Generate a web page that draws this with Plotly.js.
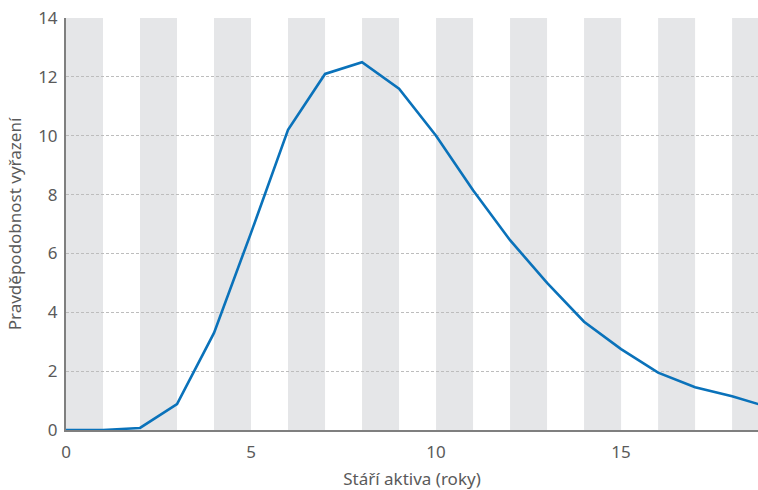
<!DOCTYPE html>
<html>
<head>
<meta charset="utf-8">
<script src="https://cdn.plot.ly/plotly-3.0.1.min.js"></script>
<style>html,body{margin:0;padding:0;background:#fff;}#chart{width:758px;height:490px;}</style>
</head>
<body>
<div id="chart"></div>
<script>
// Data
var ageYears = [0, 1, 2, 3, 4, 5, 6, 7, 8, 9, 10, 11, 12, 13, 14, 15, 16, 17, 18, 19];
var probability = [0, 0, 0.07, 0.88, 3.3, 6.7, 10.2, 12.1, 12.5, 11.6, 10.0, 8.15, 6.45, 5.0, 3.68, 2.75, 1.95, 1.45, 1.15, 0.77];
var bandStarts = [0, 2, 4, 6, 8, 10, 12, 14, 16, 18];
var xTickVals = [0, 5, 10, 15];
var yTickVals = [0, 2, 4, 6, 8, 10, 12, 14];
var xTitle = 'Stáří aktiva (roky)';
var yTitle = 'Pravděpodobnost vyřazení';

var shapes = bandStarts.map(function (s) {
  return {
    type: 'rect', xref: 'x', yref: 'paper', x0: s, x1: s + 1, y0: 0, y1: 1,
    fillcolor: '#e5e6e8', line: {width: 0}, layer: 'below'
  };
});

var font = {family: '"Noto Sans", "Open Sans", sans-serif', color: '#5a5a5a', size: 16};

var trace = {
  x: ageYears, y: probability, type: 'scatter', mode: 'lines',
  line: {color: '#0a72ba', width: 2.6}, hoverinfo: 'skip', cliponaxis: false
};

var layout = {
  width: 758, height: 490,
  margin: {l: 66, r: 0, t: 18, b: 60},
  paper_bgcolor: '#ffffff', plot_bgcolor: '#ffffff',
  showlegend: false,
  font: font,
  shapes: shapes,
  xaxis: {
    range: [0, 18.7], tickvals: xTickVals, ticks: '', showgrid: false, zeroline: false,
    showline: true, linecolor: '#7f7f7f', linewidth: 2, ticklabelstandoff: 6,
    tickfont: {size: 17, color: '#5a5a5a'},
    title: {text: xTitle, font: {size: 17, color: '#5a5a5a'}, standoff: 17}
  },
  yaxis: {
    range: [0, 14], tickvals: yTickVals, ticks: '', showgrid: true,
    gridcolor: '#bdbdbd', gridwidth: 1, griddash: '3px,2px', zeroline: false,
    showline: true, linecolor: '#7f7f7f', linewidth: 2, ticklabelstandoff: 3,
    tickfont: {size: 17, color: '#5a5a5a'},
    title: {text: yTitle, font: {size: 17, color: '#5a5a5a'}, standoff: 12}
  }
};

Plotly.newPlot('chart', [trace], layout, {displayModeBar: false, staticPlot: true});
</script>
</body>
</html>
